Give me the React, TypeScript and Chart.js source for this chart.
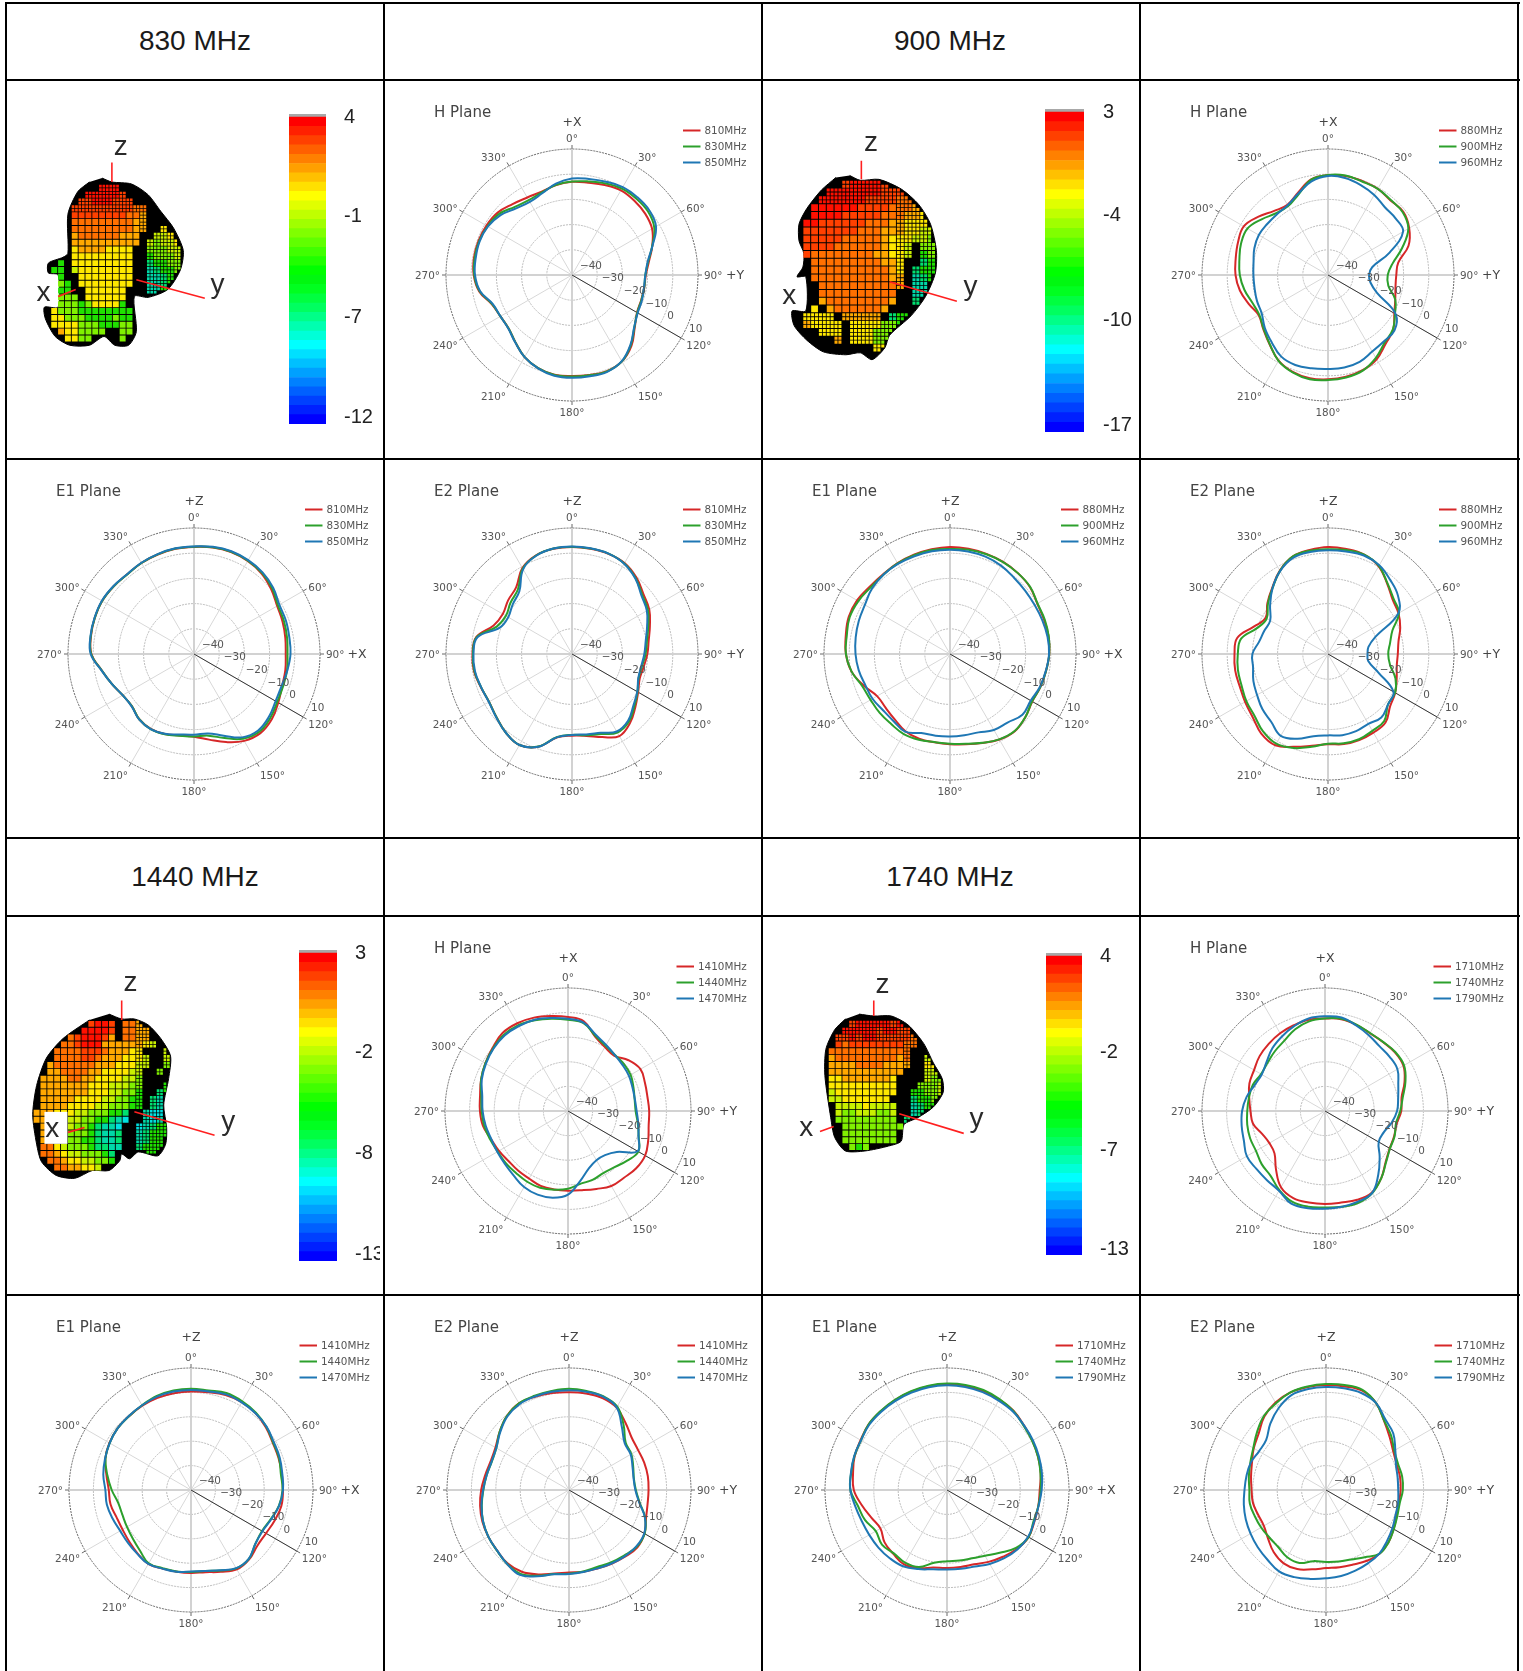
import React, { useEffect, useRef } from "react";
import { Chart, registerables } from "chart.js";

Chart.register(...registerables);

// ---------- angular categories and tick labels ----------
const angleCategories = ["0","10","20","30","40","50","60","70","80","90","100","110","120","130","140","150","160","170","180","190","200","210","220","230","240","250","260","270","280","290","300","310","320","330","340","350"];
const angleTickLabels = ["0°","30°","60°","90°","120°","150°","180°","210°","240°","270°","300°","330°"];
const radialTickValues = [-40,-30,-20,-10,0,10];
const radialTickLabels = ["−40","−30","−20","−10","0","10"];
const seriesColors = ["#d62728","#2ca02c","#1f77b4"];

// ---------- 830 MHz group ----------
const hPlane810 = [-3,-2.8,-2,-1.2,-1.5,-2.1,-3.3,-6.1,-9,-10.7,-10.9,-10.8,-10.2,-7.5,-3.3,-.4,.6,.3,.1,.2,-.7,-2.4,-5.1,-7.1,-7.2,-6.1,-2.6,-1,-.5,-.5,-.8,-1.5,-3.3,-4.5,-4.8,-3.8];
const hPlane830 = [-2.9,-2.3,-1.3,-.4,-.4,-.7,-2.3,-6.1,-9.3,-10.9,-10.9,-10.7,-10.1,-7.7,-3.7,-.4,.7,.4,.3,.3,-.7,-2.4,-5.1,-7.1,-7.2,-6.3,-2.8,-1.2,-.8,-.8,-1.3,-2.3,-4.7,-5.7,-5.1,-3.7];
const hPlane850 = [-1.7,-1.3,-.6,.3,.3,0,-1.5,-6,-9.5,-10.9,-11,-10.5,-9.9,-7.8,-3.9,-.5,.9,.8,.8,.6,-.6,-2.4,-5,-7,-7.2,-6.5,-3,-1.5,-1.2,-1,-1.5,-3,-5.5,-6.5,-5.5,-3.2];
const e1Plane810 = [2.5,2.9,3,2.6,1.7,0,-1.9,-2.6,-3.2,-3.6,-3.2,-2.8,-1.4,.3,1,-.2,-2.8,-5.5,-7.2,-7.2,-6.2,-5.7,-6.2,-7.8,-7.3,-5.3,-2.8,.7,1.5,1.9,2.1,1.7,1.3,1.7,2,2.4];
const e1Plane830 = [2.6,3,3.2,2.8,2,.5,-1.5,-2,-2.5,-2.9,-2.5,-2.4,-1.9,-.5,.3,-1.2,-4.5,-7.1,-7.3,-7.1,-6.1,-5.6,-6.2,-7.8,-7.3,-5.3,-2.8,.8,1.6,1.9,2.1,1.7,1.2,1.7,2.1,2.5];
const e1Plane850 = [2.7,3.2,3.4,3,2.3,1,-.9,-1.2,-1.6,-1.7,-2.4,-3,-2.6,-1.2,-.4,-1.8,-5.5,-8,-8,-7.6,-6.3,-5.6,-6.1,-7.7,-7.3,-5.3,-2.7,1,1.7,2,2.2,1.8,1.3,1.8,2.2,2.6];
const e2Plane810 = [2.5,2.4,2.3,1.7,-.3,-3,-4.6,-7.1,-9.1,-10.1,-11.1,-11.4,-9.7,-7.2,-4.2,-2.4,-4.9,-7,-7.6,-6.4,-.8,1.7,.8,-.9,-2,-1.5,-.5,-.5,-1.4,-6.9,-8.3,-6.9,-5.5,-.6,1.7,2.4];
const e2Plane830 = [2.6,2.5,2.4,1.5,-.7,-3.6,-5.2,-7.8,-9.8,-10.8,-11.8,-11.9,-10,-7.7,-4.9,-4,-6.2,-7.3,-7.9,-6.6,-.9,1.7,.8,-.9,-2,-1.6,-.7,-.7,-1.6,-8.2,-9.7,-8.2,-6.6,-.9,1.6,2.5];
const e2Plane850 = [2.7,2.6,2.4,1.4,-.9,-4,-5.7,-8.3,-10.3,-11.3,-12.1,-12,-10.1,-8.2,-5.4,-4.5,-6.7,-7.6,-7.9,-6.5,-.8,1.7,.8,-.8,-1.9,-1.6,-.9,-.9,-1.9,-9.5,-10.8,-9.3,-7.5,-1.2,1.5,2.5];

// ---------- 900 MHz group ----------
const hPlane880 = [-.4,-.1,-.3,-.5,-1.4,-1,-2.8,-6,-11.7,-12.9,-12.8,-11.6,-9.6,-6.2,-4.4,-1.4,.2,1,1.4,1.6,.9,-.8,-4,-6.5,-8.2,-6.5,-4.5,-3.3,-2.8,-2,-1.4,-4,-6.8,-7.8,-5.2,-1.5];
const hPlane900 = [-.3,.1,-.5,-.5,-1.2,-1.3,-3.2,-8.7,-14,-16.3,-15.7,-11.6,-9.3,-6.4,-5,-2,.4,1.3,1.7,2,1.1,-.7,-4.1,-6.7,-8.5,-8,-6.3,-5,-4.3,-3.3,-3.1,-5.6,-8,-8.4,-5.9,-1.6];
const hPlane960 = [-.7,-.9,-2,-3.3,-4.9,-5,-5.6,-14,-22.2,-23.7,-22.9,-19.3,-9,-5.6,-5.6,-4.9,-3.3,-2.7,-2.7,-2.4,-2,-2.7,-5.2,-7.3,-9.6,-10,-10.4,-10.4,-10,-8.9,-8.3,-8.5,-8.5,-8,-5.6,-2.3];
const e1Plane880 = [2.5,2.4,2.3,2.2,1.9,1.4,0,-.3,-.3,-.6,-1.3,-1.8,-2.3,-1,0,-.8,-2.4,-3.6,-4.2,-4.4,-4.2,-4.6,-6,-6.7,-6.6,-3.5,-.3,1.3,2,2.8,2.6,1.6,1.3,1.6,1.9,2.2];
const e1Plane900 = [1.7,2,2.1,2.1,1.9,1.5,.1,0,-.2,-.6,-1.3,-1.8,-2.4,-1,-.1,-.9,-2.5,-3.8,-4.4,-4.5,-3.8,-3.3,-3.7,-3.6,-3.6,-2.9,-.3,1.3,1.6,2.4,2,1.1,1.1,1.5,1.7,1.9];
const e1Plane960 = [1.4,1.3,1.1,.5,-.5,-1,-1.2,-1,-.7,-.7,-1.4,-2,-3,-2.5,-4.5,-5.2,-6.9,-7.3,-7.3,-7.1,-6.6,-4.4,-5.2,-5.3,-4.5,-4.2,-3.2,-2.5,-2,-1.5,-1,.4,1.1,1.3,1.3,1.4];
const e2Plane880 = [2.5,2.3,2,.2,-3.5,-6.5,-7.7,-9.5,-11.6,-12.3,-12.3,-11,-9.2,-7.8,-4.5,-4,-3.7,-3.7,-4.2,-3,-.8,1.8,1.2,-1,-2,-2.7,-2.6,-2.9,-3.4,-8.5,-11.4,-8.6,-5.6,-1.8,1.1,1.9];
const e2Plane900 = [1.6,1.9,2,.4,-3.3,-6,-7.5,-12.8,-15,-16.1,-15,-11.5,-9.3,-8.9,-5.3,-4.8,-4,-4,-4.4,-2.6,-.3,1.1,.1,-1.9,-2.6,-3.5,-3.7,-4.2,-5,-10,-11.9,-8.9,-5.8,-1.9,1.1,1.6];
const e2Plane960 = [1.2,1.3,1.6,.7,-1.6,-3.8,-7.8,-19.9,-23.7,-24.3,-23.8,-18.8,-10,-8.9,-7.1,-8,-7.4,-7.3,-7.7,-6.9,-4.2,-2.5,-4.9,-6,-7.5,-8.5,-9.8,-10,-12.2,-13.1,-13.5,-10,-5.8,-2,.6,1.1];

// ---------- 1440 MHz group ----------
const hPlane1410 = [-1.8,-3,-7.8,-10,-10.7,-7.9,-6,-6.7,-7.2,-7,-6.7,-5.3,-3.8,-3.8,-4.6,-4.8,-6.3,-7.3,-7.6,-7.6,-7.6,-8.3,-8.4,-8.4,-7.6,-6.7,-4.9,-4.2,-3.7,-2.4,-1.2,0,1.4,1.2,.4,-.8];
const hPlane1440 = [-2.9,-3.7,-7.5,-9.4,-10.3,-10.3,-10.6,-11.7,-12.5,-12.5,-11.2,-9.4,-7,-8.6,-10.3,-11,-10.3,-10,-8.4,-7.5,-6.8,-6.8,-7.1,-7,-7,-6.3,-5.4,-4.9,-4.2,-2.4,-1.2,-.3,.5,.3,-.7,-1.9];
const hPlane1470 = [-2.5,-3.5,-7,-9,-10.3,-11,-11.4,-12.1,-12.4,-12.1,-11,-9.5,-7.3,-14.1,-16.6,-16.9,-15.2,-11.2,-6,-4.2,-3.8,-4.3,-5.7,-6.5,-6.8,-6.8,-6,-5.3,-4.6,-2.7,-1.5,-.5,.1,-.1,-.5,-1.6];
const e1Plane1410 = [.4,.7,1.4,1.6,1.1,0,-1.3,-1.8,-2.2,-2.3,-2.4,-3.5,-4.5,-4.5,-2.9,-2.4,-4.3,-5.8,-6,-6,-5.7,-5,-6,-7,-7.6,-7.5,-6.5,-6.3,-4.8,-2.6,-1.4,-.7,-.5,-.1,.2,.3];
const e1Plane1440 = [1.5,1.4,2.3,2,1.4,.3,-1.1,-1.6,-2.6,-2.5,-3.4,-5.2,-6.4,-5.6,-3.1,-2.9,-4.9,-6.3,-6.4,-6.1,-5.9,-5.3,-7.5,-8.9,-9.7,-10.1,-9.7,-7.5,-5.2,-2.7,-1.5,-.7,-.5,.1,1,1.4];
const e1Plane1470 = [1,1,1.7,1.5,1.1,.4,-.8,-1.3,-2,-2.3,-3.3,-5,-6.2,-5.6,-3.2,-3,-5,-6.3,-6.6,-6,-5.7,-5,-5.8,-6.3,-6.5,-5.8,-5,-4.9,-3.5,-2.5,-1.5,-.7,-.4,.1,.7,1];
const e2Plane1410 = [.1,.2,.1,-1,-4,-6.5,-7.3,-7.2,-7.2,-7.4,-7.3,-6.4,-4.3,-3.4,-4.3,-5.1,-5.8,-6,-6.2,-5.2,-3.2,-1.3,-.8,-1.5,-1.8,-2.2,-3,-4,-5.1,-5.8,-5.2,-2.9,-.4,1,.7,.4];
const e2Plane1440 = [1.5,1.2,.9,-.5,-5.2,-9.7,-10.5,-12,-13,-12.6,-10.6,-6.8,-4.2,-3.8,-4.9,-5.7,-6.4,-6.1,-5.7,-5,-2.6,-.3,-.5,-1.4,-1.8,-2.5,-3.7,-4.9,-5.7,-6.3,-5.6,-2.9,-.4,1,1.1,1.2];
const e2Plane1470 = [.9,.9,.7,-.9,-6.3,-10.2,-10.8,-12.3,-13.1,-12.8,-10.8,-6.9,-4.4,-4,-4.5,-5.2,-5.8,-5.9,-5.6,-4.9,-2.4,.2,-.5,-1.5,-1.8,-2.5,-3.6,-4.8,-5.7,-6.2,-5.6,-3.2,-.7,.6,.8,.9];

// ---------- 1740 MHz group ----------
const hPlane1710 = [-2.4,-2.1,-2.7,-3.5,-3.4,-2.9,-3.2,-5.6,-8.4,-9,-10.4,-10.1,-9.6,-7.8,-4.4,-1.8,-1.6,-2.2,-2.2,-2.2,-2.3,-4.2,-9,-13.2,-13.9,-12.8,-10.3,-9.7,-8.7,-7.3,-6.7,-5.3,-4.4,-3.5,-2.9,-2.3];
const hPlane1740 = [-2.4,-1.9,-2.6,-3.4,-3.3,-2.7,-2.9,-5.2,-7.9,-9.4,-10.7,-9.9,-9.5,-7.6,-4.4,-1.5,-.3,-.5,-.8,-.5,-.8,-2.9,-5.6,-6.4,-7.6,-7.6,-7.9,-8.4,-8.6,-8.8,-10,-9.5,-8.3,-7,-4.6,-3];
const hPlane1790 = [-1.5,-1.4,-3,-4.4,-5.6,-5.7,-6,-8.3,-9.8,-10.7,-12.5,-14.6,-14.8,-11,-6.3,-1.6,-.8,-.5,-.3,.1,.1,-2.6,-3.3,-3.5,-3.3,-4.9,-5.6,-6.3,-7.6,-9.5,-10.3,-9,-6.7,-5,-3.3,-1.8];
const e1Plane1710 = [3.3,3.3,3.2,2.8,2.4,1.2,.4,-.3,-1,-2,-2,-1.9,-1.4,-2.5,-4.3,-6,-7.6,-8,-8,-7.7,-6,-4.8,-5.8,-6.6,-8.5,-7,-4.5,-1.8,-.9,.3,.9,1.9,2.2,2.6,2.9,3.2];
const e1Plane1740 = [3.6,3.7,3.6,3,2.3,1,.3,-.3,-1.1,-1.6,-2,-2.3,-1.4,-3.1,-6.4,-8.9,-10.2,-10.7,-10.8,-9.7,-6.4,-5.6,-6.1,-5.2,-6.3,-4.2,-2.9,-.4,-.1,.4,.7,1.9,2.3,2.7,3.1,3.4];
const e1Plane1790 = [2.9,2.9,2.7,2.3,2,1.2,.7,.1,-.5,-1.2,-1.9,-2,-1.6,-2.2,-3.5,-5,-6.6,-7.2,-7.4,-7,-5.5,-3.9,-3.5,-3.3,-3.2,-2.8,-1.8,-.4,0,.5,.7,1.6,1.9,2.2,2.5,2.8];
const e2Plane1710 = [3,3.1,3.3,1.1,-3,-6,-8.2,-9.2,-9.2,-9.4,-9.7,-9.2,-8,-6.6,-5.9,-6.5,-7.5,-7.9,-8,-7,-5.5,-5.3,-6.7,-9,-10.6,-10.4,-9.6,-9.5,-8.8,-7.7,-5.8,-4,-.7,1.4,2.6,2.9];
const e2Plane1740 = [3.4,3.7,3.7,1.1,-2.9,-5.2,-7.7,-8.6,-8.3,-8.5,-9.3,-8.9,-7.9,-6.6,-5.9,-8.2,-9.7,-10.2,-10.5,-10.4,-8.2,-8.2,-9.5,-9.7,-9.3,-8.9,-8.3,-8.6,-7.9,-7,-5.6,-3.1,-.4,1,2.6,3.1];
const e2Plane1790 = [2.2,2.3,2.3,1.1,-2.2,-4,-7.2,-9.5,-10.2,-10.4,-10,-9.7,-8.6,-7.4,-6,-5.4,-4.8,-4.2,-3.8,-3,-2,-1.5,-2.7,-3.5,-4.3,-5,-5.8,-6.6,-6.9,-7.2,-8.3,-8,-4.5,-1.2,1.4,2];

// ---------- colour bars ----------
const barColors = ["#0000ff","#0020ff","#0040ff","#0060ff","#0080ff","#00a0ff","#00c0ff","#00e0ff","#00ffff","#00ffd8","#00ffb0","#00ff88","#00ff60","#00ff40","#00ff20","#00f810","#00ff00","#20ff00","#40ff00","#60ff00","#80ff00","#a0ff00","#c0ff00","#e0ff00","#ffff00","#ffe000","#ffc000","#ffa000","#ff8000","#ff6000","#ff4000","#ff2000","#ff0000"];
const barLevelPositions = [.65,11.5,22.3,33];
const barLabels830 = ["-12","-7","-1","4"];
const barLabels900 = ["-17","-10","-4","3"];
const barLabels1440 = ["-13","-8","-2","3"];
const barLabels1740 = ["-13","-7","-2","4"];

// ---------- 3-D surfaces: outlines and colour-coded mesh rows ----------
const levelColors: Record<string,string> = { R:"#ff1000", r:"#ff4000", O:"#ff7000", o:"#ffa800", Y:"#ffe800", y:"#c8f000", L:"#80f000", G:"#20e000", g:"#00e070", T:"#00d8a8", C:"#00e0e0" };

const outline830 = [[100,176],[110,180],[130,182],[147,193],[160,210],[173,227],[183,250],[180,270],[167,290],[147,298],[133,297],[135,333],[127,347],[113,347],[102,338],[87,347],[67,347],[52,338],[42,320],[41,308],[55,308],[55,275],[45,273],[45,263],[60,257],[65,253],[65,213],[75,190],[87,180]];
const outline900 = [[847,173],[858,178],[877,177],[900,187],[918,203],[930,223],[936,250],[935,273],[925,297],[910,317],[888,337],[883,350],[870,362],[858,355],[843,357],[820,354],[803,342],[790,327],[788,312],[802,312],[802,277],[793,277],[799,267],[800,253],[795,240],[795,223],[803,207],[818,188],[833,175]];
const outline1440 = [[107,1012],[120,1017],[133,1017],[147,1023],[160,1037],[170,1055],[168,1078],[163,1105],[166,1128],[165,1145],[157,1157],[137,1153],[128,1160],[120,1155],[118,1162],[107,1172],[90,1172],[72,1180],[53,1177],[38,1163],[33,1145],[29,1115],[33,1085],[43,1057],[60,1037],[87,1018]];
const outline1740 = [[857,1012],[872,1014],[890,1014],[907,1023],[923,1042],[933,1062],[942,1078],[943,1092],[933,1107],[917,1118],[903,1125],[900,1142],[887,1147],[863,1152],[843,1152],[832,1138],[828,1118],[822,1075],[823,1048],[832,1028],[843,1017]];

const mesh830 = [
"        RRR",
"      RRRRRr",
"     rrRRRrrr",
"    rrrrrrrrrOO",
"   OrrrrrrrrOOo",
"   OOOOOOOOOOoo",
"   OOOOOOOOOOoo  Y",
"   ooOOOOOOooo  yyY",
"   ooooooooooo yLyyY",
"   YYooooYYYY  LLLyy",
"   YYYYYYYYYY  GLLLy",
" LG YYYYYYYYY  gGGLL",
" GG yYYYYYYYY  TgGGL",
"  G  YYYYYYYY  TTgGL",
"  LG YYYYYYYY  TTgG",
"  GG  YYYYYY   TTG",
"  LLL YYYYYY",
" LLLLGLYYYYG G",
" YLLLGGGGGGGGGG",
" YYLLLGGGGLGGGG",
" YYYYLLLGGGLLGG",
" ooYYLLLL  LLLL",
"  oYYLL    LLL",
];
const mesh900 = [
"      rRRRRrr",
"    RRRRRRRrrrO",
"   RRRRRRrrrrOOO",
"  RRRRRRrrrrOOOoo",
" RRRRRrrrrrOOOooYY",
"RRRrrrrrrOOOooYYYy",
"RrrrrrrrOOOoooYYyy",
"rrrrrrOOOOOoYYYyyL",
" rrrrOOOOOOoYYy LL",
" rOOOOOOOOooYYy GL",
"  OOOOOOOOOooY  gG",
"  OOOOOOOOOOoY gGG",
"  OOOOOOOOOOoo TgG",
"   OOOOOOOOOOo TTg",
"   OOOOOOOOOO  TT",
"   oOOOOOOOOo  g",
" YY oOOOOOOo    G",
" YYYY ooooo gGG",
" oYYYY YYYYLLG",
"   YYY YYYLLLL",
"     o YYYLLL",
"          YY",
];
const mesh1440 = [
"        rRRr OOo",
"      rRRRRr OOoo",
"     OrRRRro OOoo",
"    OOrRRRooooooYy",
"   OOOOrrrOoooYY   y",
"  OOOOOrrOoooYYYy  y",
"  oOOOOOOoooYYYyy  L",
" oooOOOOooYYYYyy  L",
" ooooOOooYYYYyyL",
" oooooooYYYyyyLL   G",
"ooooooooYYYyyLLG  gG",
"ooooooYYYYyyLLGG gT",
"oooooYYYYyyLLLGG gTC",
"oooYYYyyLLLGGg  TCC",
"oooYYyyLLGGgTC  TCTg",
"oooYyyLLGgTTC  CTgGG",
"oooYyLLLGgTTg  TgGGG",
"ooOyLLLGGgTTg  TgGGG",
"oOOYyLLLGggTT  gGGG",
" OOoYyyLLLGgg   GG",
"  OOoYYyyLLG",
"   OOooYYy",
];
const mesh1740 = [
"    rRRRRRrR",
"   RRRRRrRRrr",
"  rrRrRRrrrrrO",
"  rOrrrrrrrrOO",
" OOOOOOOOOOOO",
" oOOOOOOOOOoO  y",
" ooooOOOOoooo  YY",
"oooooooooooo   yyy",
"YYYoooooooY    yLL",
"YYYYYYYYYYY   LLLy",
" yYYYYYYYYY  GGLLy",
" yyYYYYYYY   gGGLL",
" yyyyyYyyyy  TgGG",
"  yLLyyyLLy  TgG",
"  LLLLLLLLL g",
"   LLLLLLLLLg",
"   LLLLLLLLL",
"   LLLLLLLL",
"    LGLLL",
];

type PolarCfg = { title: string; top: string; right: string; cx: number; cy: number; r: number; titleX: number; titleY: number; left: number; topY: number; names: string[]; values: number[][]; };

const COL = [7, 385, 763, 1141];
const ROW = [81, 460, 917, 1296];
const CELL_W = 376;
const CELL_H = 377;

const names830 = ["810MHz","830MHz","850MHz"];
const names900 = ["880MHz","900MHz","960MHz"];
const names1440 = ["1410MHz","1440MHz","1470MHz"];
const names1740 = ["1710MHz","1740MHz","1790MHz"];

const polarPanels: PolarCfg[] = [
  { title:"H Plane", top:"+X", right:"+Y", cx:572, cy:275, r:126, titleX:434, titleY:112, left:COL[1], topY:ROW[0], names:names830, values:[hPlane810,hPlane830,hPlane850] },
  { title:"H Plane", top:"+X", right:"+Y", cx:1328, cy:275, r:126, titleX:1190, titleY:112, left:COL[3], topY:ROW[0], names:names900, values:[hPlane880,hPlane900,hPlane960] },
  { title:"E1 Plane", top:"+Z", right:"+X", cx:194, cy:654, r:126, titleX:56, titleY:491, left:COL[0], topY:ROW[1], names:names830, values:[e1Plane810,e1Plane830,e1Plane850] },
  { title:"E2 Plane", top:"+Z", right:"+Y", cx:572, cy:654, r:126, titleX:434, titleY:491, left:COL[1], topY:ROW[1], names:names830, values:[e2Plane810,e2Plane830,e2Plane850] },
  { title:"E1 Plane", top:"+Z", right:"+X", cx:950, cy:654, r:126, titleX:812, titleY:491, left:COL[2], topY:ROW[1], names:names900, values:[e1Plane880,e1Plane900,e1Plane960] },
  { title:"E2 Plane", top:"+Z", right:"+Y", cx:1328, cy:654, r:126, titleX:1190, titleY:491, left:COL[3], topY:ROW[1], names:names900, values:[e2Plane880,e2Plane900,e2Plane960] },
  { title:"H Plane", top:"+X", right:"+Y", cx:568, cy:1111, r:123, titleX:434, titleY:948, left:COL[1], topY:ROW[2], names:names1440, values:[hPlane1410,hPlane1440,hPlane1470] },
  { title:"H Plane", top:"+X", right:"+Y", cx:1325, cy:1111, r:123, titleX:1190, titleY:948, left:COL[3], topY:ROW[2], names:names1740, values:[hPlane1710,hPlane1740,hPlane1790] },
  { title:"E1 Plane", top:"+Z", right:"+X", cx:191, cy:1490, r:122, titleX:56, titleY:1327, left:COL[0], topY:ROW[3], names:names1440, values:[e1Plane1410,e1Plane1440,e1Plane1470] },
  { title:"E2 Plane", top:"+Z", right:"+Y", cx:569, cy:1490, r:122, titleX:434, titleY:1327, left:COL[1], topY:ROW[3], names:names1440, values:[e2Plane1410,e2Plane1440,e2Plane1470] },
  { title:"E1 Plane", top:"+Z", right:"+X", cx:947, cy:1490, r:122, titleX:812, titleY:1327, left:COL[2], topY:ROW[3], names:names1740, values:[e1Plane1710,e1Plane1740,e1Plane1790] },
  { title:"E2 Plane", top:"+Z", right:"+Y", cx:1326, cy:1490, r:122, titleX:1190, titleY:1327, left:COL[3], topY:ROW[3], names:names1740, values:[e2Plane1710,e2Plane1740,e2Plane1790] },
];

type SurfaceCfg = { left:number; topY:number; outline:number[][]; mesh:string[]; x0:number; y0:number; pitch:number; cellRadius:number;
  fineTop:number; fineRight:number; fineBottom:number;
  axes:number[][][]; letters:{t:string;x:number;y:number}[]; box?:number[];
  barLeft:number; barW:number; barTop:number; barBottom:number; labelLeft:number; barLabels:string[]; clipRight:number; };

const surfaces: SurfaceCfg[] = [
  { left:COL[0], topY:ROW[0], outline:outline830, mesh:mesh830, x0:44, y0:186, pitch:7, cellRadius:4.2, fineTop:4, fineRight:14, fineBottom:99,
    axes:[[[110,160],[110,180]],[[55,297],[73,290]],[[135,280],[205,299]]],
    letters:[{t:"z",x:119,y:144},{t:"x",x:40,y:294},{t:"y",x:218,y:286}],
    barLeft:289, barW:37, barTop:117, barBottom:424, labelLeft:344, barLabels:barLabels830, clipRight:383 },
  { left:COL[2], topY:ROW[0], outline:outline900, mesh:mesh900, x0:795, y0:182, pitch:8, cellRadius:4.8, fineTop:3, fineRight:13, fineBottom:17,
    axes:[[[859,158],[859,177]],[[888,282],[957,302]]],
    letters:[{t:"z",x:869,y:140},{t:"x",x:785,y:297},{t:"y",x:971,y:288}],
    barLeft:1045, barW:39, barTop:112, barBottom:432, labelLeft:1103, barLabels:barLabels900, clipRight:1139 },
  { left:COL[0], topY:ROW[2], outline:outline1440, mesh:mesh1440, x0:33, y0:1022, pitch:7, cellRadius:4.2, fineTop:0, fineRight:15, fineBottom:99,
    axes:[[[120,998],[120,1018]],[[65,1133],[82,1128]],[[133,1112],[215,1136]]],
    letters:[{t:"z",x:129,y:981},{t:"x",x:49,y:1130},{t:"y",x:229,y:1123}], box:[41,1112,64,1144],
    barLeft:299, barW:38, barTop:953, barBottom:1261, labelLeft:355, barLabels:barLabels1440, clipRight:380 },
  { left:COL[2], topY:ROW[2], outline:outline1740, mesh:mesh1740, x0:822, y0:1022, pitch:7, cellRadius:4.2, fineTop:3, fineRight:12, fineBottom:99,
    axes:[[[872,998],[872,1014]],[[817,1132],[831,1127]],[[898,1114],[964,1134]]],
    letters:[{t:"z",x:881,y:983},{t:"x",x:803,y:1129},{t:"y",x:977,y:1120}],
    barLeft:1046, barW:36, barTop:956, barBottom:1255, labelLeft:1100, barLabels:barLabels1740, clipRight:1139 },
];

const headings = [
  { text:"830 MHz", x:195, y:41 },
  { text:"900 MHz", x:950, y:41 },
  { text:"1440 MHz", x:195, y:877 },
  { text:"1740 MHz", x:950, y:877 },
];

const UI_FONT = '"DejaVu Sans", sans-serif';
const TEXT_COLOR = "#555";
const TEXT_SHIFT = 1.5;
const angleDy = [-5,-3.5,-1,0,4,6.4,5,6.4,4,0,-1,-3.5];

function insidePolygon(poly: number[][], x: number, y: number) {
  let inside = false;
  for (let i = 0, j = poly.length - 1; i < poly.length; j = i++) {
    const [xi, yi] = poly[i]; const [xj, yj] = poly[j];
    if ((yi > y) !== (yj > y) && x < ((xj - xi) * (y - yi)) / (yj - yi) + xi) inside = !inside;
  }
  return inside;
}

function PolarPanel({ cfg }: { cfg: PolarCfg }) {
  const ref = useRef<HTMLCanvasElement>(null);
  useEffect(() => {
    const padL = cfg.cx - cfg.r - cfg.left;
    const padT = cfg.cy - cfg.r - cfg.topY;
    const overlay = {
      id: "polarOverlay",
      beforeDatasetsDraw(chart: any) {
        const s = chart.scales.r; const c = chart.ctx;
        const end = s.getPointPositionForValue(12, 10);
        c.save(); c.strokeStyle = "#333"; c.lineWidth = 1;
        c.beginPath(); c.moveTo(s.xCenter, s.yCenter); c.lineTo(end.x, end.y); c.stroke();
        c.strokeStyle = "#666";
        for (let i = 0; i < 36; i += 3) {
          const a = s.getPointPosition(i, cfg.r); const b = s.getPointPosition(i, cfg.r + 4);
          c.beginPath(); c.moveTo(a.x, a.y); c.lineTo(b.x, b.y); c.stroke();
        }
        c.restore();
      },
      afterDraw(chart: any) {
        const s = chart.scales.r; const c = chart.ctx;
        const lx = (x: number) => x - cfg.left;
        const ly = (y: number) => y - cfg.topY + TEXT_SHIFT;
        c.save(); c.textBaseline = "middle"; c.fillStyle = TEXT_COLOR;
        c.font = `10.4px ${UI_FONT}`;
        angleTickLabels.forEach((label, k) => {
          const p = s.getPointPosition(k * 3, cfg.r + 6);
          c.textAlign = k === 0 || k === 6 ? "center" : k < 6 ? "left" : "right";
          c.fillText(label, p.x, p.y + angleDy[k] + TEXT_SHIFT);
        });
        c.textAlign = "left";
        radialTickLabels.forEach((label, k) => {
          const p = s.getPointPositionForValue(12, radialTickValues[k]);
          c.fillText(label, p.x + 8, p.y - 9);
        });
        cfg.names.forEach((name, k) => {
          const offset = name.length > 6 ? 108.5 : 111;
          const y = ly(cfg.cy - 146 + k * 16);
          const x = lx(cfg.cx + offset);
          c.strokeStyle = seriesColors[k]; c.lineWidth = 2;
          c.beginPath(); c.moveTo(x, y); c.lineTo(x + 17.5, y); c.stroke();
          c.fillText(name, x + 21.5, y + .5);
        });
        c.font = `15px ${UI_FONT}`;
        c.fillStyle = "#444";
        c.fillText(cfg.title, lx(cfg.titleX), ly(cfg.titleY));
        c.textAlign = "center";
        c.font = `12.5px ${UI_FONT}`;
        c.fillText(cfg.top, lx(cfg.cx), ly(cfg.cy - 154));
        c.fillText(cfg.right, lx(cfg.cx + cfg.r + 37), ly(cfg.cy - 1));
        c.restore();
      },
    };
    const chart = new Chart(ref.current as HTMLCanvasElement, {
      type: "radar",
      data: {
        labels: angleCategories,
        datasets: cfg.values.map((v, k) => ({
          label: cfg.names[k], data: v, borderColor: seriesColors[k], backgroundColor: "transparent",
          borderWidth: 2, pointRadius: 0, tension: 0.4, fill: false, order: 3 - k,
        })),
      },
      options: {
        animation: false, responsive: false, devicePixelRatio: 1,
        layout: { padding: { left: padL, top: padT, right: CELL_W - padL - 2 * cfg.r, bottom: CELL_H - padT - 2 * cfg.r } },
        plugins: { legend: { display: false }, title: { display: false }, tooltip: { enabled: false } },
        scales: {
          r: {
            min: -40, max: 10,
            ticks: { display: false, stepSize: 10 },
            pointLabels: { display: false },
            grid: { circular: true, lineWidth: 1, color: (ctx: any) => (ctx.index === 5 ? "#666" : "#bbb") },
            border: { dash: [2, 1] },
            angleLines: {
              display: true,
              color: (ctx: any) => (ctx.index % 9 === 0 ? "#d2d2d2" : ctx.index % 3 === 0 ? "#d8d8d8" : "rgba(0,0,0,0)"),
              lineWidth: (ctx: any) => (ctx.index % 9 === 0 ? 2 : ctx.index % 3 === 0 ? 1 : 0),
            },
          },
        },
      },
      plugins: [overlay],
    } as any);
    return () => chart.destroy();
  }, [cfg]);
  return <canvas ref={ref} width={CELL_W} height={CELL_H} style={{ position: "absolute", left: cfg.left, top: cfg.topY }} />;
}

function Surface({ cfg }: { cfg: SurfaceCfg }) {
  const ref = useRef<HTMLCanvasElement>(null);
  useEffect(() => {
    const points: { x: number; y: number }[] = [];
    const colors: string[] = [];
    const radii: number[] = [];
    const addCell = (x: number, y: number, radius: number, color: string) => {
      const half = radius * 0.6;
      const ok = [[-half,-half],[half,-half],[-half,half],[half,half]].every(([dx, dy]) => insidePolygon(cfg.outline, x + dx, y + dy));
      if (!ok) return;
      points.push({ x, y }); colors.push(color); radii.push(radius);
    };
    cfg.mesh.forEach((row, r) => {
      row.split("").forEach((ch, c) => {
        const color = levelColors[ch];
        if (!color) return;
        const x = cfg.x0 + c * cfg.pitch; const y = cfg.y0 + r * cfg.pitch;
        if (r < cfg.fineTop || c >= cfg.fineRight || r >= cfg.fineBottom) {
          const q = cfg.pitch / 4;
          const small = cfg.pitch * 0.27;
          [[-q,-q],[q,-q],[-q,q],[q,q]].forEach(([dx, dy]) => addCell(x + dx, y + dy, small, color));
        } else {
          addCell(x, y, cfg.cellRadius, color);
        }
      });
    });
    const letters = {
      id: "axisLetters",
      afterDatasetsDraw(chart: any) {
        const c = chart.ctx; const sx = chart.scales.x; const sy = chart.scales.y;
        c.save();
        if (cfg.box) {
          c.fillStyle = "#fff";
          c.fillRect(sx.getPixelForValue(cfg.box[0]), sy.getPixelForValue(cfg.box[1]), cfg.box[2] - cfg.box[0], cfg.box[3] - cfg.box[1]);
        }
        c.fillStyle = "#2a2a2a"; c.font = '28px "Liberation Sans", Arial, sans-serif';
        c.textAlign = "center"; c.textBaseline = "middle";
        cfg.letters.forEach((l) => c.fillText(l.t, sx.getPixelForValue(l.x), sy.getPixelForValue(l.y)));
        c.restore();
      },
    };
    const chart = new Chart(ref.current as HTMLCanvasElement, {
      type: "scatter",
      data: {
        datasets: [
          ...cfg.axes.map((seg) => ({
            type: "scatter", data: seg.map((p) => ({ x: p[0], y: p[1] })), showLine: true, borderColor: "#ff2020",
            borderWidth: 1.6, pointRadius: 0, order: 1,
          })),
          { type: "scatter", data: points, pointStyle: "rect", pointRadius: radii, pointBorderWidth: 0, pointBackgroundColor: colors, showLine: false, order: 2 },
          { type: "scatter", data: cfg.outline.map((p) => ({ x: p[0], y: p[1] })), showLine: true, fill: "shape", tension: 0.25,
            borderColor: "#000", backgroundColor: "#000", borderWidth: 1, pointRadius: 0, order: 3 },
        ],
      },
      options: {
        animation: false, responsive: false, devicePixelRatio: 1,
        layout: { padding: 0 },
        plugins: { legend: { display: false }, tooltip: { enabled: false } },
        scales: {
          x: { type: "linear", display: false, min: cfg.left, max: cfg.left + CELL_W },
          y: { type: "linear", display: false, reverse: true, min: cfg.topY, max: cfg.topY + CELL_H },
        },
      },
      plugins: [letters],
    } as any);
    return () => chart.destroy();
  }, [cfg]);
  return <canvas ref={ref} width={CELL_W} height={CELL_H} style={{ position: "absolute", left: cfg.left, top: cfg.topY }} />;
}

function ColorBar({ cfg }: { cfg: SurfaceCfg }) {
  const ref = useRef<HTMLCanvasElement>(null);
  const canvasW = cfg.clipRight - cfg.barLeft;
  const pad = 22;
  const greyPx = 3;
  const barH = cfg.barBottom - cfg.barTop;
  const greyLevels = (greyPx / barH) * barColors.length;
  useEffect(() => {
    const chart = new Chart(ref.current as HTMLCanvasElement, {
      type: "bar",
      data: {
        labels: ["gain"],
        datasets: [
          ...barColors.map((col) => ({ data: [1], backgroundColor: col, borderWidth: 0, barPercentage: 1, categoryPercentage: 1 })),
          { data: [greyLevels], backgroundColor: "#a8a8a8", borderWidth: 0, barPercentage: 1, categoryPercentage: 1 },
        ],
      },
      options: {
        animation: false, responsive: false, devicePixelRatio: 1,
        layout: { padding: { top: pad - greyPx, bottom: pad, left: 0, right: 0 } },
        plugins: { legend: { display: false }, tooltip: { enabled: false } },
        scales: {
          x: { stacked: true, display: false },
          y: {
            stacked: true, position: "right", min: 0, max: barColors.length + greyLevels,
            grid: { display: false, drawTicks: false }, border: { display: false },
            afterFit: (s: any) => { s.width = canvasW - cfg.barW; s.paddingTop = 0; s.paddingBottom = 0; },
            afterBuildTicks: (s: any) => { s.ticks = barLevelPositions.map((v) => ({ value: v })); },
            ticks: {
              autoSkip: false, padding: cfg.labelLeft - cfg.barLeft - cfg.barW, color: "#222", maxRotation: 0,
              font: { family: '"Liberation Sans", Arial, sans-serif', size: 20 },
              callback: (value: number) => cfg.barLabels[barLevelPositions.indexOf(value)],
            },
          },
        },
      },
    } as any);
    return () => chart.destroy();
  }, [cfg]);
  return <canvas ref={ref} width={canvasW} height={barH + 2 * pad} style={{ position: "absolute", left: cfg.barLeft, top: cfg.barTop - pad }} />;
}

const lineV = [6, 384, 762, 1140, 1518];
const lineH = [3, 80, 459, 838, 916, 1295];

export default function App() {
  return (
    <div style={{ position: "absolute", left: 0, top: 0, width: 1523, height: 1671, background: "#fff", overflow: "hidden" }}>
      {surfaces.map((s, i) => <Surface key={"s" + i} cfg={s} />)}
      {surfaces.map((s, i) => <ColorBar key={"b" + i} cfg={s} />)}
      {polarPanels.map((p, i) => <PolarPanel key={"p" + i} cfg={p} />)}
      {lineV.map((x) => <div key={"v" + x} style={{ position: "absolute", left: x - 1, top: 2, width: 2, height: 1669, background: "#000" }} />)}
      {lineH.map((y) => <div key={"h" + y} style={{ position: "absolute", left: 5, top: y - 1, width: 1515, height: 2, background: "#000" }} />)}
      {headings.map((h) => (
        <div key={h.text} style={{ position: "absolute", left: h.x - 150, top: h.y - 20, width: 300, height: 40, lineHeight: "40px", textAlign: "center", fontFamily: '"Liberation Sans", Arial, sans-serif', fontSize: 28, color: "#1a1a1a" }}>
          {h.text}
        </div>
      ))}
    </div>
  );
}
